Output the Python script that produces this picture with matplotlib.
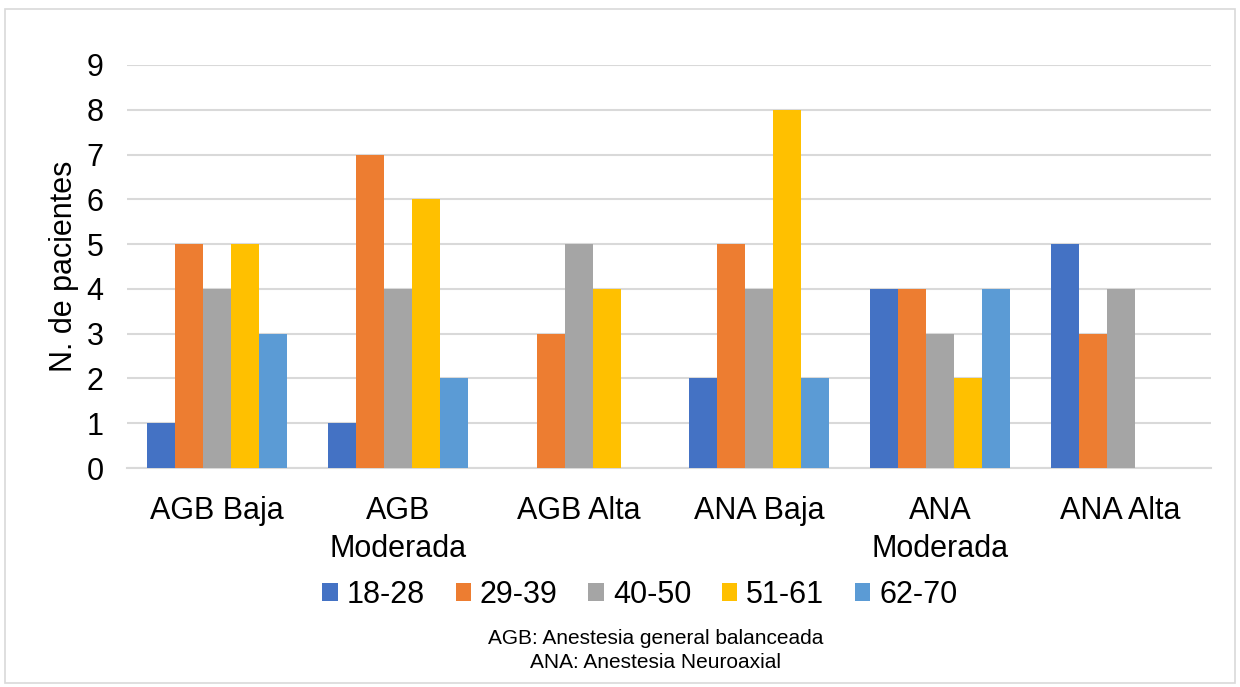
import matplotlib.pyplot as plt
import numpy as np
from matplotlib.patches import Rectangle

plt.rcParams['font.family'] = ['Liberation Sans', 'DejaVu Sans']

categories = ['AGB Baja', 'AGB\nModerada', 'AGB Alta', 'ANA Baja', 'ANA\nModerada', 'ANA Alta']
age_groups = ['18-28', '29-39', '40-50', '51-61', '62-70']
v_18_28 = [1, 1, 0, 2, 4, 5]
v_29_39 = [5, 7, 3, 5, 4, 3]
v_40_50 = [4, 4, 5, 4, 3, 4]
v_51_61 = [5, 6, 4, 8, 2, 0]
v_62_70 = [3, 2, 0, 2, 4, 0]
series = [v_18_28, v_29_39, v_40_50, v_51_61, v_62_70]
colors = ['#4472C4', '#ED7D31', '#A5A5A5', '#FFC000', '#5B9BD5']

fig = plt.figure(figsize=(12.4, 6.87), dpi=100)
# outer chart border
fig.patches.append(Rectangle((5 / 1240, 4 / 687), 1230 / 1240, 674 / 687,
                             transform=fig.transFigure, fill=False,
                             edgecolor='#d9d9d9', linewidth=1.2))

ax = fig.add_axes([127 / 1240, 1 - 468 / 687, 1084 / 1240, 403 / 687])

x = np.arange(len(categories))
w = 0.155
for i, (vals, col, lab) in enumerate(zip(series, colors, age_groups)):
    ax.bar(x + (i - 2) * w, vals, width=w, color=col, label=lab, zorder=3)

ax.set_xlim(-0.5, len(categories) - 0.5)
ax.set_ylim(0, 9)
ax.set_yticks(range(10))
ax.yaxis.grid(True, color='#d9d9d9', linewidth=1.5, zorder=0)
for s in ['top', 'right', 'left']:
    ax.spines[s].set_visible(False)
ax.spines['bottom'].set_color('#d9d9d9')
ax.spines['bottom'].set_linewidth(1.5)
ax.tick_params(axis='both', length=0, labelsize=22, colors='black')
ax.tick_params(axis='y', pad=17)
ax.tick_params(axis='x', pad=20)
ax.set_xticks(x)
ax.set_xticklabels(categories, linespacing=1.35)
ax.set_ylabel('N. de pacientes', fontsize=22, labelpad=5)

ax.legend(loc='center', bbox_to_anchor=(640 / 1240, 1 - 595 / 687), bbox_transform=fig.transFigure,
          ncol=5, frameon=False, fontsize=22, handlelength=0.5, handleheight=0.5,
          handletextpad=0.3, columnspacing=1.0)

fig.text(656 / 1240, 1 - 638 / 687, 'AGB: Anestesia general balanceada', ha='center', va='center', fontsize=15)
fig.text(656 / 1240, 1 - 662 / 687, 'ANA: Anestesia Neuroaxial', ha='center', va='center', fontsize=15)

fig.savefig('out.png', dpi=100)
